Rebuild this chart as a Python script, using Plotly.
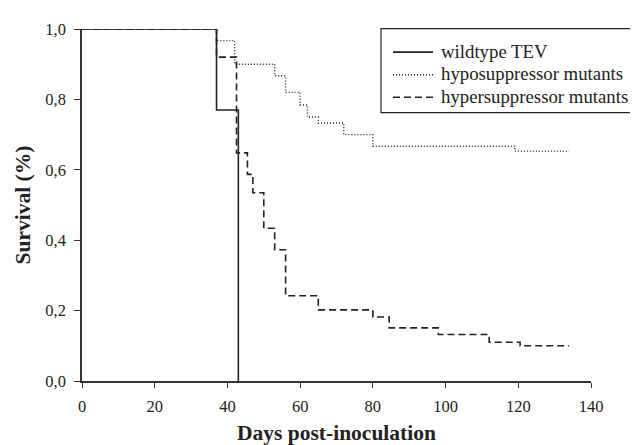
import plotly.graph_objects as go

# Kaplan-Meier style survival data (days post-inoculation, survival fraction)
days_wt = [0, 37, 43]
surv_wt = [1.0, 0.77, 0.0]

days_hypo = [0, 37, 42, 53, 56, 60, 62, 65, 72, 80, 119, 134]
surv_hypo = [1.0, 0.967, 0.90, 0.867, 0.82, 0.784, 0.75, 0.733, 0.70, 0.667, 0.653, 0.653]

days_hyper = [0, 37, 42.5, 45.5, 47, 50, 53, 56, 65, 80, 84.5, 98, 112, 120.5, 134]
surv_hyper = [1.0, 0.92, 0.648, 0.587, 0.535, 0.434, 0.373, 0.242, 0.202, 0.182, 0.151, 0.132, 0.110, 0.100, 0.100]

names = ["wildtype TEV", "hyposuppressor mutants", "hypersuppressor mutants"]
x_ticks = [0, 20, 40, 60, 80, 100, 120, 140]
y_ticks = [0.0, 0.2, 0.4, 0.6, 0.8, 1.0]

FONT = "Liberation Serif"
INK = "#222222"
AX = "#333333"

# figure geometry (pixels)
W, H = 638, 445
L, R, T, B = 74, 55, 16, 63
PW, PH = W - L - R, H - T - B


def px_x(p):
    return (p - L) / PW


def px_y(p):
    return (H - B - p) / PH


styles = [
    dict(color=INK, width=1.6),
    dict(color=INK, width=1.4, dash="1px,2px"),
    dict(color=INK, width=1.6, dash="7px,4px"),
]
series = [(days_wt, surv_wt), (days_hypo, surv_hypo), (days_hyper, surv_hyper)]

fig = go.Figure()
for (xs, ys), nm, st in zip(series, names, styles):
    fig.add_trace(go.Scatter(x=xs, y=ys, mode="lines", line_shape="hv",
                             name=nm, line=st, showlegend=False))

# legend drawn as a framed box with sample lines and labels
shapes = [dict(type="rect", xref="paper", yref="paper",
               x0=px_x(373), x1=px_x(634.5), y0=px_y(103), y1=px_y(15.7),
               line=dict(color=INK, width=1.2), fillcolor="rgba(0,0,0,0)", layer="above")]
annotations = []
row_y = [40, 63.5, 87]
for nm, st, ry in zip(names, styles, row_y):
    shapes.append(dict(type="line", xref="paper", yref="paper",
                       x0=px_x(385), x1=px_x(425), y0=px_y(ry), y1=px_y(ry),
                       line=dict(color=st["color"], width=st["width"], dash=st.get("dash", "solid"))))
    annotations.append(dict(text=nm, xref="paper", yref="paper", x=px_x(431), y=px_y(ry - 1),
                            xanchor="left", yanchor="middle", showarrow=False,
                            font=dict(family=FONT, size=18.8, color=INK)))

fig.update_layout(
    width=W, height=H,
    margin=dict(l=L, r=R, t=T, b=B),
    paper_bgcolor="white", plot_bgcolor="white",
    separators=",.",
    font=dict(family=FONT, size=16.5, color=INK),
    showlegend=False,
    shapes=shapes,
    annotations=annotations,
    xaxis=dict(range=[0, 140], tickvals=x_ticks, tickformat="d",
               showline=True, linecolor=AX, linewidth=1.5,
               ticks="outside", ticklen=5, tickwidth=1.3, tickcolor=AX,
               ticklabelstandoff=4,
               showgrid=False, zeroline=False,
               title=dict(text="<b>Days post-inoculation</b>", font=dict(size=21.5), standoff=10)),
    yaxis=dict(range=[0, 1], tickvals=y_ticks, tickformat=".1f",
               showline=True, linecolor=AX, linewidth=1.5,
               ticks="outside", ticklen=6, tickwidth=1.3, tickcolor=AX,
               ticklabelstandoff=5,
               showgrid=False, zeroline=False,
               title=dict(text="<b>Survival (%)</b>", font=dict(size=21.5), standoff=9)),
)

fig.write_html("out.html")
